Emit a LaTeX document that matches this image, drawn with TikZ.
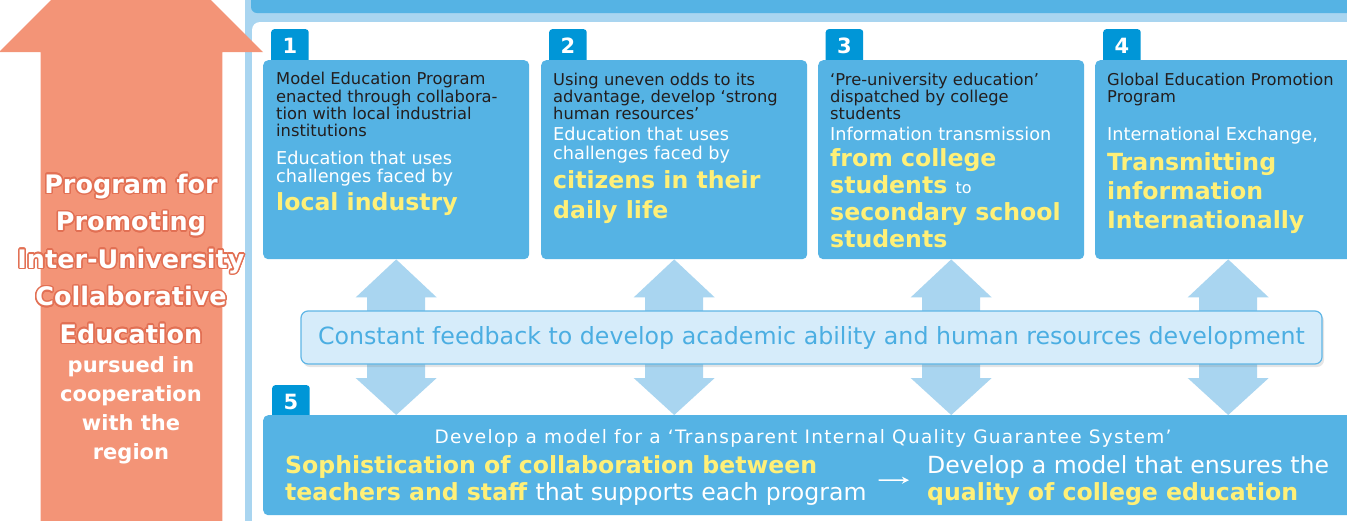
\documentclass[tikz,border=0pt]{standalone}
\usepackage{fontspec}
\setmainfont{DejaVu Sans}
\usepackage{contour}
\contourlength{1.5pt}
\usetikzlibrary{shadows,arrows.meta,calc}

\definecolor{boxblue}{RGB}{85,179,228}
\definecolor{tabblue}{RGB}{0,150,215}
\definecolor{paleblue}{RGB}{169,213,240}
\definecolor{barfill}{RGB}{214,236,250}
\definecolor{barline}{RGB}{95,182,230}
\definecolor{bartext}{RGB}{75,174,226}
\definecolor{salmon}{RGB}{243,148,119}
\definecolor{salmonedge}{RGB}{226,112,84}
\definecolor{hiyellow}{RGB}{255,240,120}
\definecolor{darktext}{RGB}{35,30,30}

\begin{document}
\begin{tikzpicture}
		[x=1pt,y=-1pt,
		card/.style={fill=boxblue,rounded corners=5pt,minimum width=266pt,minimum height=199pt,anchor=north west,inner sep=0},
		tab/.style={fill=tabblue,rounded corners=3pt,minimum width=37.5pt,minimum height=34pt,anchor=north west,inner sep=0,text=white,font=\bfseries\fontsize{21}{21}\selectfont},
		note/.style={text=darktext,font=\fontsize{16.3}{17.3}\selectfont,align=left,anchor=base west,inner sep=0},
		lead/.style={text=white,font=\fontsize{17.7}{18.7}\selectfont,align=left,anchor=base west,inner sep=0},
		key/.style={text=hiyellow,font=\bfseries\fontsize{23.6}{29.6}\selectfont,align=left,anchor=base west,inner sep=0},
		twoway/.style={fill=paleblue},
		title/.style={text=white,align=center,anchor=base,inner sep=0}]

		\useasboundingbox (0,0) rectangle (1347,520);
		\clip (0,0) rectangle (1347,520);

		% frame
		\fill[paleblue] (245,-10) rectangle (1360,530);
		\fill[boxblue,rounded corners=6pt] (251,-20) rectangle (1360,13);
		\fill[white,rounded corners=8pt] (252,22) rectangle (1360,540);

		% programs 1-4 (text nodes sit on the baseline of their last line)
		\node[tab] (t1) at (271,29) {1};
		\node[card] (b1) at (263,60) {};
		\node[note] (b1n) at (276,136.7) {Model Education Program\\enacted through collabora-\\tion with local industrial\\institutions};
		\node[lead] (b1l) at (276,182.7) {Education that uses\\challenges faced by};
		\node[key] (b1k) at (276,210.7) {local industry};

		\node[tab] (t2) at (549,29) {2};
		\node[card] (b2) at (541,60) {};
		\node[note] (b2n) at (553,119.6) {Using uneven odds to its\\advantage, develop ‘strong\\human resources’};
		\node[lead] (b2l) at (553,159.4) {Education that uses\\challenges faced by};
		\node[key,font=\bfseries\fontsize{23.6}{30}\selectfont] (b2k) at (553,218.3) {citizens in their\\daily life};

		\node[tab] (t3) at (825.5,29) {3};
		\node[card] (b3) at (818,60) {};
		\node[note] (b3n) at (830,119.6) {‘Pre-university education’\\dispatched by college\\students};
		\node[lead] (b3l) at (830,140.7) {Information transmission};
		\node[key,font=\bfseries\fontsize{23.6}{26.9}\selectfont] (b3k) at (830,247.4) {from college\\students {\mdseries\color{white}\fontsize{16}{16}\selectfont to}\\secondary school\\students};

		\node[tab] (t4) at (1103,29) {4};
		\node[card] (b4) at (1095,60) {};
		\node[note] (b4n) at (1107,102.3) {Global Education Promotion\\Program};
		\node[lead] (b4l) at (1107,140.7) {International Exchange,};
		\node[key,font=\bfseries\fontsize{23.6}{29.3}\selectfont] (b4k) at (1107,228.6) {Transmitting\\information\\Internationally};

		% program 5
		\node[tab] (t5) at (272,385) {5};
		\node[card,minimum width=1100pt,minimum height=100pt] (b5) at (263,415) {};
		\node[lead,anchor=base,font=\fontsize{18.5}{18.5}\selectfont\addfontfeature{LetterSpace=7}] (b5t) at (803,443.3) {Develop a model for a ‘Transparent Internal Quality Guarantee System’};
		\node[key,font=\bfseries\fontsize{23.6}{26.7}\selectfont] (b5k) at (285,500) {Sophistication of collaboration between\\teachers and staff {\mdseries\color{white}that supports each program}};
		\node[key,font=\bfseries\fontsize{23.6}{26.7}\selectfont] (b5r) at (927,500) {{\mdseries\color{white}Develop a model that ensures the}\\quality of college education};
		\draw[white,line width=1.5pt,-{Stealth[length=7pt,width=7pt]}] ([xshift=12pt]b5k.east) -- ([xshift=-18pt]b5r.west);

		% feedback arrows
		\foreach \i in {1,...,4} {
			\coordinate (d\i) at (b\i.south |- b5.north);
			\fill[twoway] (b\i.south) -- ++(40.5,38) -- ++(-11.5,0) -- ($(d\i)+(29,-37)$) -- ++(11.5,0) -- (d\i)
				-- ++(-40.5,-37) -- ++(11.5,0) -- ($(b\i.south)+(-29,38)$) -- ++(-11.5,0) -- cycle;
		}
		\node[fill=barfill,draw=barline,line width=1.2pt,rounded corners=7pt,minimum width=1021pt,minimum height=53pt,
			text=bartext,font=\fontsize{23.7}{24}\selectfont,
			drop shadow={opacity=0.2,shadow xshift=2pt,shadow yshift=-3pt}] (fb) at (811.5,337.5)
			{Constant feedback to develop academic ability and human resources development};

		% big arrow
		\fill[salmon] (40.5,530) -- (40.5,52) -- (-1,52) -- (131,-80) -- (263,52) -- (222.3,52) -- (222.3,530) -- cycle;
		\node[title,font=\bfseries\fontsize{25.5}{37.5}\selectfont] (prog) at (131,343.3)
			{\contour{salmonedge}{Program for}\\\contour{salmonedge}{Promoting}\\\contour{salmonedge}{Inter-University}\\\contour{salmonedge}{Collaborative}\\\contour{salmonedge}{Education}};
		\node[title,font=\bfseries\fontsize{21}{29}\selectfont] (coop) at (131,459.7) {pursued in\\cooperation\\with the\\region};

	\end{tikzpicture}
\end{document}
